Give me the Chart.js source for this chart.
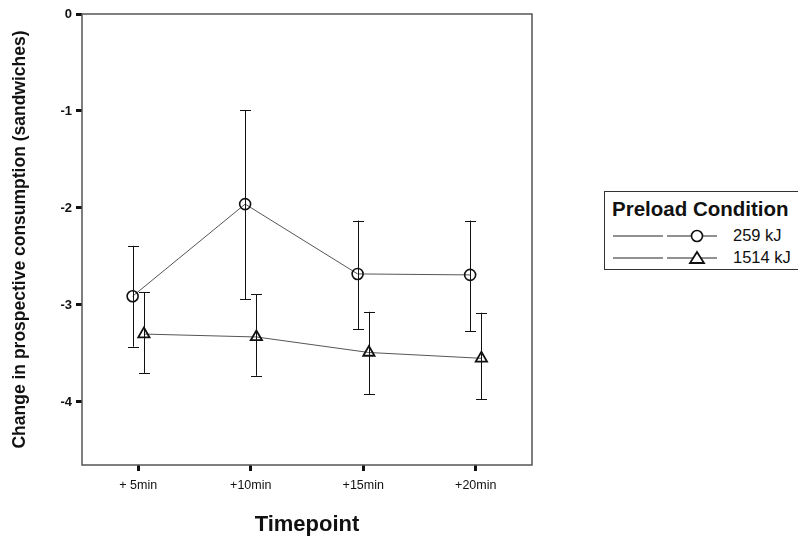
<!DOCTYPE html>
<html>
<head>
<meta charset="utf-8">
<script src="https://cdn.jsdelivr.net/npm/chart.js@4"></script>
<style>
  html,body{margin:0;padding:0;background:#fff;}
  #wrap{position:relative;width:798px;height:538px;}
  #legend{position:absolute;left:604px;top:191px;width:194px;height:77px;border:1px solid #333;border-right:none;background:#fff;font-family:"Liberation Sans",Arial,sans-serif;color:#111;}
  #legend .t{position:absolute;left:7px;top:5px;font-weight:bold;font-size:20.5px;white-space:nowrap;}
  #legend .row{position:absolute;left:8px;font-size:16.5px;}
  #legend svg{position:absolute;left:0;top:-8px;}
  #legend .lbl{position:absolute;left:120px;top:-10px;white-space:nowrap;}
</style>
</head>
<body>
<div id="wrap">
<canvas id="c" width="798" height="538"></canvas>
<div id="legend">
  <div class="t">Preload Condition</div>
  <div class="row" style="top:44px">
    <svg width="120" height="16" viewBox="0 -8 120 16"><line x1="0" y1="0" x2="50" y2="0" stroke="#222" stroke-width="1"/><line x1="54" y1="0" x2="104" y2="0" stroke="#222" stroke-width="1"/><circle cx="84" cy="0" r="5.5" fill="#fff" stroke="#111" stroke-width="1.6"/></svg>
    <span class="lbl">259 kJ</span>
  </div>
  <div class="row" style="top:66px">
    <svg width="120" height="16" viewBox="0 -8 120 16"><line x1="0" y1="0" x2="50" y2="0" stroke="#222" stroke-width="1"/><line x1="54" y1="0" x2="104" y2="0" stroke="#222" stroke-width="1"/><polygon points="84,-6 91,5 77,5" fill="#fff" stroke="#111" stroke-width="1.8"/></svg>
    <span class="lbl">1514 kJ</span>
  </div>
</div>
</div>
<script>
const categories = ["+ 5min", "+10min", "+15min", "+20min"];
const seriesNames = ["259 kJ", "1514 kJ"];
const mean259 = [-2.91, -1.96, -2.68, -2.69];
const low259  = [-3.43, -2.94, -3.25, -3.27];
const high259 = [-2.39, -0.99, -2.13, -2.13];
const mean1514 = [-3.30, -3.33, -3.49, -3.55];
const low1514  = [-3.70, -3.73, -3.92, -3.97];
const high1514 = [-2.87, -2.89, -3.07, -3.08];
const yTicks = [0, -1, -2, -3, -4];

const dodge = 0.05;
function pts(vals, off){ return vals.map((v,i)=>({x:i+1+off, y:v})); }

const errorBars = {
  id:'errorBars',
  afterDatasetsDraw(chart){
    const ctx = chart.ctx, ys = chart.scales.y;
    const sets = [[low259, high259],[low1514, high1514]];
    ctx.save();
    ctx.strokeStyle = '#111';
    ctx.lineWidth = 1;
    chart.data.datasets.forEach((ds, di)=>{
      const meta = chart.getDatasetMeta(di);
      meta.data.forEach((p, i)=>{
        const x = Math.round(p.x)+0.5;
        const yl = ys.getPixelForValue(sets[di][0][i]);
        const yh = ys.getPixelForValue(sets[di][1][i]);
        ctx.beginPath();
        ctx.moveTo(x, yh); ctx.lineTo(x, yl);
        ctx.moveTo(x-5.5, Math.round(yh)+0.5); ctx.lineTo(x+5.5, Math.round(yh)+0.5);
        ctx.moveTo(x-5.5, Math.round(yl)+0.5); ctx.lineTo(x+5.5, Math.round(yl)+0.5);
        ctx.stroke();
      });
    });
    ctx.restore();
  }
};

const frame = {
  id:'frame',
  beforeDatasetsDraw(chart){
    const a = chart.chartArea, ctx = chart.ctx;
    ctx.save();
    ctx.strokeStyle = '#555';
    ctx.lineWidth = 1.5;
    ctx.strokeRect(a.left, a.top, a.right-a.left, a.bottom-a.top);
    ctx.restore();
  }
};

new Chart(document.getElementById('c'), {
  type:'line',
  data:{
    datasets:[
      {label:seriesNames[0], data:pts(mean259,-dodge), borderColor:'#555', borderWidth:1,
       pointStyle:'circle', pointRadius:5.5, pointBackgroundColor:'rgba(255,255,255,0)', pointBorderColor:'#111', pointBorderWidth:1.6, tension:0, order:1},
      {label:seriesNames[1], data:pts(mean1514,dodge), borderColor:'#555', borderWidth:1,
       pointStyle:'triangle', pointRadius:6.5, pointBackgroundColor:'rgba(255,255,255,0)', pointBorderColor:'#111', pointBorderWidth:1.8, tension:0, order:0}
    ]
  },
  options:{
    responsive:false,
    animation:false,
    events:[],
    layout:{padding:{top:14, right:266, left:0, bottom:0}},
    plugins:{legend:{display:false}, tooltip:{enabled:false}},
    scales:{
      x:{
        type:'linear', min:0.5, max:4.5,
        afterBuildTicks(s){ s.ticks = categories.map((c,i)=>({value:i+1})); },
        afterFit(s){ s.height = 73; },
        ticks:{ callback:(v)=>categories[v-1], color:'#111', padding:7,
                font:{family:'"Liberation Sans", Arial, sans-serif', size:12.5}, maxRotation:0 },
        grid:{ display:true, drawOnChartArea:false, drawTicks:true, tickLength:6, tickWidth:3, tickColor:'#111' },
        border:{display:false},
        title:{ display:true, text:'Timepoint', color:'#111',
                font:{family:'"Liberation Sans", Arial, sans-serif', size:22, weight:'bold'}, padding:{top:0,bottom:0} }
      },
      y:{
        type:'linear', min:-4.65, max:0,
        afterBuildTicks(s){ s.ticks = yTicks.map(v=>({value:v})); },
        afterFit(s){ s.width = 82; },
        ticks:{ callback:(v)=>String(v), color:'#111', padding:4,
                font:{family:'"Liberation Sans", Arial, sans-serif', size:13, weight:'bold'} },
        grid:{ display:true, drawOnChartArea:false, drawTicks:true, tickLength:6, tickWidth:3, tickColor:'#111' },
        border:{display:false},
        title:{ display:true, text:'Change in prospective consumption (sandwiches)', color:'#111',
                font:{family:'"Liberation Sans", Arial, sans-serif', size:17.5, weight:'bold'}, padding:{top:10,bottom:0} }
      }
    }
  },
  plugins:[frame, errorBars]
});
</script>
</body>
</html>
